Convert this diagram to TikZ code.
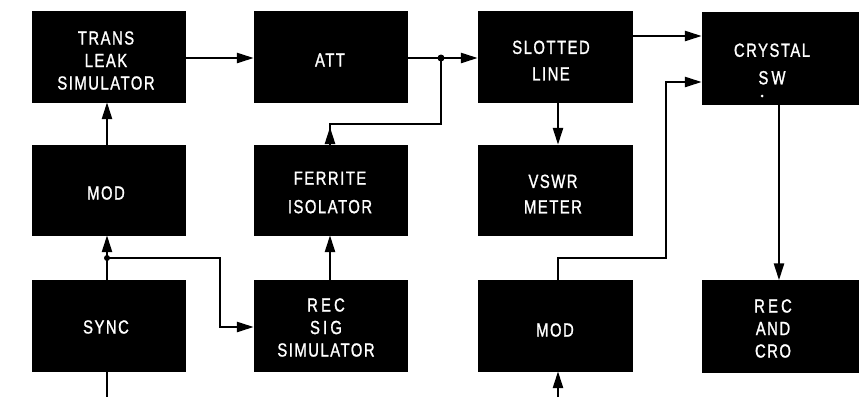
\documentclass[tikz,border=0pt]{standalone}
\usepackage{fontspec}
\setmainfont{Liberation Sans}[LetterSpace=8,FakeStretch=0.78,FakeBold=1.2]
\usetikzlibrary{arrows.meta}
\begin{document}
\begin{tikzpicture}[x=1pt,y=-1pt,
  blk/.style={fill=black,draw=black,minimum width=153pt,minimum height=91pt,inner sep=0pt},
  txt/.style={text=white,inner sep=0pt,align=center,font=\fontsize{19}{22.5}\selectfont},
  wire/.style={line width=2.5pt},
  arr/.style={wire,-{Triangle[length=17pt,width=10pt]}},
  dot/.style={circle,fill=black,inner sep=0pt,minimum size=7pt}]
\useasboundingbox (0,0) rectangle (863,397);
% boxes
\node[blk] (trans) at (108.5,56.5) {};
\node[blk] (att) at (330.5,56.5) {};
\node[blk,minimum width=154pt] (slot) at (555,56.5) {};
\node[blk,minimum width=156pt,minimum height=92pt] (cry) at (780,58) {};
\node[blk,minimum height=90pt] (mod1) at (108.5,190) {};
\node[blk,minimum height=90pt] (fer) at (330.5,190) {};
\node[blk,minimum width=154pt,minimum height=90pt] (vswr) at (555,190) {};
\node[blk] (sync) at (108.5,325.5) {};
\node[blk] (rsig) at (330.5,325.5) {};
\node[blk,minimum width=154pt] (mod2) at (555,325.5) {};
\node[blk,minimum width=156pt,minimum height=92pt] (rcro) at (780,326.5) {};
% texts
\node[txt] (transT) at (106,60.5) {TRANS\\LEAK\\SIMULATOR};
\node[txt] (attT) at (330,60) {ATT};
\node[txt] (slotT) at (551,60.5) {SLOTTED\\[4pt]LINE};
\node[txt] (cryT) at (772,64) {CRYSTAL\\[5pt]S\,W};
\node[txt] (mod1T) at (106,193) {MOD};
\node[txt] (ferT) at (330,192.5) {FERRITE\\[6pt]ISOLATOR};
\node[txt] (vswrT) at (553,194) {VSWR\\[3pt]METER};
\node[txt] (syncT) at (106,327) {SYNC};
\node[txt] (rsigT) at (326,327.5) {R\,E\,C\\S\,I\,G\\SIMULATOR};
\node[txt] (mod2T) at (555,330) {MOD};
\node[txt] (rcroT) at (773,328.5) {R\,E\,C\\AND\\CRO};
\fill[white] (762,96) circle (1.5pt);
% junctions and bends
\node[dot] (j1) at (441,58) {};
\node[dot,minimum size=6pt] (j2) at (107,258) {};
\coordinate (fc) at (330,124);
\coordinate (fcr) at (441,124);
\coordinate (sr) at (220,258);
\coordinate (sd) at (220,327);
\coordinate (syb) at (107,397);
\coordinate (m2b) at (558,397);
\coordinate (m2t) at (558,258);
\coordinate (m2r) at (666,258);
\coordinate (m2u) at (666,82);
% connectors
\draw[arr] (trans.east |- 0,58) -- (att.west |- 0,58);
\draw[wire] (att.east |- 0,58) -- (j1.center);
\draw[arr] (j1.center) -- (slot.west |- 0,58);
\draw[wire] (fer.north -| fc) -- (fc) -- (fcr) -- (j1.center);
\draw[arr] (fer.north -| fc) -- ([yshift=-3pt]fc);
\draw[arr] (j2.center) -- (mod1.south -| j2);
\draw[wire] (sync.north -| j2) -- (j2.center);
\draw[arr] (mod1.north -| j2) -- (trans.south -| j2);
\draw[arr] (j2.center) -- (sr) -- (sd) -- (rsig.west |- sd);
\draw[arr] (rsig.north -| fc) -- (fer.south -| fc);
\draw[wire] (sync.south -| syb) -- (syb);
\draw[arr] (m2b) -- (mod2.south -| m2b);
\draw[arr] (mod2.north -| m2t) -- (m2t) -- (m2r) -- (m2u) -- (cry.west |- m2u);
\draw[arr] (slot.east |- 0,36) -- (cry.west |- 0,36);
\draw[arr] (slot.south -| m2b) -- (vswr.north -| m2b);
\draw[arr] (cry.south -| 779,0) -- (rcro.north -| 779,0);
\end{tikzpicture}
\end{document}
